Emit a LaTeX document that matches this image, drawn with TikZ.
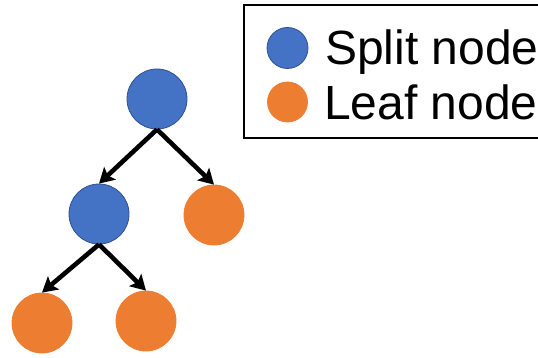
\documentclass[tikz,border=0pt]{standalone}
\usepackage{fontspec}
\setmainfont{Liberation Sans}
\usetikzlibrary{arrows.meta}
\definecolor{splitblue}{HTML}{4472C4}
\definecolor{splitedge}{HTML}{2F528F}
\definecolor{leaforange}{HTML}{ED7D31}
\tikzset{
  splitnode/.style={circle, fill=splitblue, draw=splitedge, line width=0.8pt, minimum size=60pt, inner sep=0pt},
  leafnode/.style={circle, fill=leaforange, draw=leaforange, line width=0.8pt, minimum size=60pt, inner sep=0pt},
  keysplit/.style={splitnode, minimum size=41pt},
  keyleaf/.style={leafnode, minimum size=40pt},
  edge/.style={line width=4.6pt, -{Stealth[length=15pt,width=17pt,inset=3pt]}},
  keytext/.style={anchor=base west, inner sep=0pt, font=\fontsize{48}{55}\selectfont}
}
\begin{document}
\begin{tikzpicture}[x=1pt, y=-1pt]
  \useasboundingbox (0,0) rectangle (538,358);
  % tree
  \node[splitnode] (root)  at (157,99)  {};
  \node[splitnode] (inner) at (99,214)  {};
  \node[leafnode]  (leafA) at (214,215) {};
  \node[leafnode]  (leafB) at (42,323)  {};
  \node[leafnode]  (leafC) at (146,321) {};
  \draw[edge] (root.south) -- (inner.north);
  \draw[edge] (root.south) -- (leafA.north);
  \draw[edge] (inner.south) -- (leafB.north);
  \draw[edge] (inner.south) -- (leafC.north);
  % legend
  \node[draw, line width=1.8pt, minimum width=300pt, minimum height=133pt, anchor=north west, inner sep=0pt] (legend) at (243,4) {};
  \node[keysplit] (keyS) at (287.5,48) {};
  \node[keyleaf]  (keyL) at (287.5,102) {};
  \node[keytext] (labS) at (325,65) {Split node};
  \node[keytext] (labL) at (324,120) {Leaf node};
\end{tikzpicture}
\end{document}
